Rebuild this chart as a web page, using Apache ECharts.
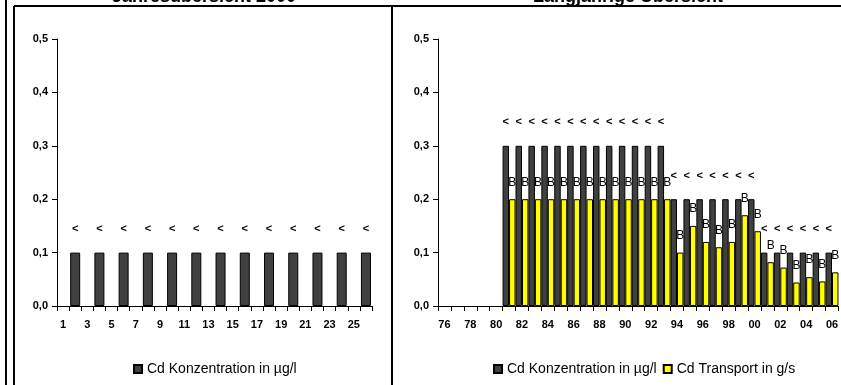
<!DOCTYPE html>
<html><head><meta charset="utf-8">
<script src="https://cdn.jsdelivr.net/npm/echarts@6/dist/echarts.min.js"></script>
<style>html,body{margin:0;padding:0;background:#fff}#c{width:841px;height:385px}</style>
</head><body><div id="c"></div>
<script>
// ---- data ----
const dayCategories = ['1','2','3','4','5','6','7','8','9','10','11','12','13','14','15','16','17','18','19','20','21','22','23','24','25','26'];
const dayConc = [null,0.1,null,0.1,null,0.1,null,0.1,null,0.1,null,0.1,null,0.1,null,0.1,null,0.1,null,0.1,null,0.1,null,0.1,null,0.1];
const dayConcFlags = ['','<','','<','','<','','<','','<','','<','','<','','<','','<','','<','','<','','<','','<'];

const yearCategories = ['76','77','78','79','80','81','82','83','84','85','86','87','88','89','90','91','92','93','94','95','96','97','98','99','00','01','02','03','04','05','06'];
const yearConc = [null,null,null,null,null,0.3,0.3,0.3,0.3,0.3,0.3,0.3,0.3,0.3,0.3,0.3,0.3,0.3,0.2,0.2,0.2,0.2,0.2,0.2,0.2,0.1,0.1,0.1,0.1,0.1,0.1];
const yearTransport = [null,null,null,null,null,0.2,0.2,0.2,0.2,0.2,0.2,0.2,0.2,0.2,0.2,0.2,0.2,0.2,0.1,0.15,0.12,0.11,0.12,0.17,0.14,0.082,0.072,0.044,0.054,0.046,0.063];
const yearConcFlags = ['','','','','','<','<','<','<','<','<','<','<','<','<','<','<','<','<','<','<','<','<','<','<','<','<','<','<','<','<'];
const yearTransportFlags = ['','','','','','B','B','B','B','B','B','B','B','B','B','B','B','B','B','B','B','B','B','B','B','B','B','B','B','B','B'];

const concName = 'Cd Konzentration in µg/l';
const transportName = 'Cd Transport in g/s';
const titleLeft = 'Jahresübersicht 2000';
const titleRight = 'Langjährige Übersicht';

// ---- chart ----
const chart = echarts.init(document.getElementById('c'), null, {renderer: 'canvas'});
const axisFont = {fontFamily: 'Liberation Sans', fontWeight: 'bold', fontSize: 11, color: '#000'};
function yAxis(gi) {
  return {
    type: 'value', gridIndex: gi, min: 0, max: 0.5, interval: 0.1,
    axisLine: {show: true, lineStyle: {color: '#000', width: 1}},
    axisTick: {show: true, length: 5, lineStyle: {color: '#000'}},
    splitLine: {show: false},
    axisLabel: Object.assign({margin: 9, formatter: v => v.toFixed(1).replace('.', ',')}, axisFont)
  };
}
function xAxis(gi, cats) {
  return {
    type: 'category', gridIndex: gi, data: cats,
    axisLine: {show: true, lineStyle: {color: '#000', width: 1}},
    axisTick: {show: true, interval: 0, length: 5, lineStyle: {color: '#000'}},
    axisLabel: Object.assign({interval: 1, margin: 13}, axisFont)
  };
}
const barBorder = {borderColor: '#000', borderWidth: 1};
const flagLabel = {fontFamily: 'Liberation Sans', fontWeight: 'bold', fontSize: 11, color: '#000'};
const legendText = {fontFamily: 'Liberation Sans', fontSize: 14, color: '#000'};
const option = {
  animation: false,
  backgroundColor: '#fff',
  grid: [
    {left: 57, top: 39, width: 315, height: 267},
    {left: 438, top: 39, width: 408, height: 267}
  ],
  xAxis: [xAxis(0, dayCategories), xAxis(1, yearCategories)],
  yAxis: [yAxis(0), yAxis(1)],
  legend: [
    {left: 133, top: 362, padding: 0, itemWidth: 8, itemHeight: 8, icon: 'rect', data: [concName],
     textStyle: legendText},
    {left: 493, top: 362, padding: 0, itemWidth: 8, itemHeight: 8, icon: 'rect', itemGap: 6,
     data: [concName, transportName], textStyle: legendText}
  ],
  series: [
    {type: 'bar', name: concName, xAxisIndex: 0, yAxisIndex: 0, data: dayConc, barWidth: 10,
     itemStyle: Object.assign({color: '#404040'}, barBorder),
     label: Object.assign({show: true, position: 'top', distance: 18, formatter: p => dayConcFlags[p.dataIndex]}, flagLabel)},
    {type: 'bar', name: concName, xAxisIndex: 1, yAxisIndex: 1, data: yearConc,
     barGap: '0%', barCategoryGap: '0%',
     itemStyle: Object.assign({color: '#404040'}, barBorder),
     label: Object.assign({show: true, position: 'top', distance: 18, formatter: p => yearConcFlags[p.dataIndex]}, flagLabel)},
    {type: 'bar', name: transportName, xAxisIndex: 1, yAxisIndex: 1, data: yearTransport,
     barGap: '0%', barCategoryGap: '0%',
     itemStyle: Object.assign({color: '#ffff00'}, barBorder),
     label: {show: true, position: 'top', distance: 11, formatter: p => yearTransportFlags[p.dataIndex],
             fontFamily: 'Liberation Sans', fontSize: 12, color: '#000'}}
  ],
  graphic: [
    {type: 'line', shape: {x1: 6, y1: 0, x2: 6, y2: 385}, style: {stroke: '#000', lineWidth: 2}},
    {type: 'line', shape: {x1: 14, y1: 6, x2: 14, y2: 385}, style: {stroke: '#000', lineWidth: 2}},
    {type: 'line', shape: {x1: 14, y1: 6, x2: 841, y2: 6}, style: {stroke: '#000', lineWidth: 2}},
    {type: 'line', shape: {x1: 392, y1: 6, x2: 392, y2: 385}, style: {stroke: '#000', lineWidth: 2}},
    {type: 'text', x: 204, y: 6, style: {text: titleLeft, align: 'center', verticalAlign: 'bottom',
      font: 'bold 18px "Liberation Sans"', fill: '#000'}},
    {type: 'text', x: 628, y: 6, style: {text: titleRight, align: 'center', verticalAlign: 'bottom',
      font: 'bold 18px "Liberation Sans"', fill: '#000'}}
  ]
};
chart.setOption(option);
</script>
</body></html>
